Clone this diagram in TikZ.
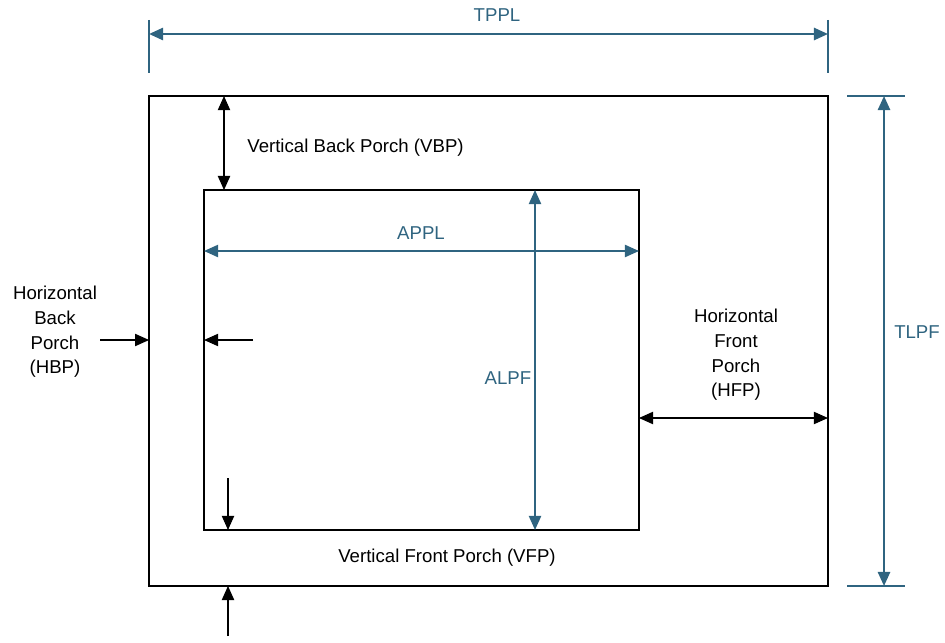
\documentclass[tikz,border=0pt]{standalone}
\usepackage{fontspec}
\setmainfont{Liberation Sans}
\usetikzlibrary{arrows.meta, positioning}
\definecolor{dimblue}{RGB}{47,100,128}

\begin{document}
\begin{tikzpicture}[x=0.02cm, y=-0.02cm]

\tikzset{box/.style = {draw, line width=1.4pt, inner sep=0pt, outer sep=0pt}}
\tikzset{edge/.style = {->, > = {Triangle[length=8pt,width=7pt]}, line width=0.6pt}}
\tikzset{dim/.style = {edge, dimblue, line width=1.1pt}}
\tikzset{dimthin/.style = {dim, line width=0.8pt}}
\tikzset{lbl/.style = {font=\fontsize{10.6}{14}\selectfont, align=center, inner sep=0pt}}

\useasboundingbox (0,0) rectangle (945,642);
%frames
\node[box, minimum width=13.58cm, minimum height=9.8cm] (frame) at (488.5,341) {};
\node[box, minimum width=8.7cm, minimum height=6.8cm] (active) at (421.5,360) {};
%free ends
\coordinate (tppl top) at (0,20);
\coordinate (tppl bot) at (0,73);
\coordinate (tppl) at (0,34);
\coordinate (tlpf l) at (847,0);
\coordinate (tlpf r) at (905,0);
\coordinate (tlpf) at (884,0);
\coordinate (vbp) at (224,0);
\coordinate (appl) at (0,251);
\coordinate (alpf) at (535,0);
\coordinate (hbp out) at (100,340);
\coordinate (hbp in) at (253,340);
\coordinate (hfp) at (0,418);
\coordinate (vfp in) at (228,478);
\coordinate (vfp out) at (228,636);
%labels
\node[lbl, dimblue] (tppl lbl) at (497,15) {TPPL};
\node[lbl, dimblue] (tlpf lbl) at (917,332) {TLPF};
\node[lbl, dimblue] (appl lbl) at (421,233) {APPL};
\node[lbl, dimblue] (alpf lbl) at (508,378) {ALPF};
\node[lbl, anchor=west] (vbp lbl) at (247,148) {Vertical Back Porch (VBP)};
\node[lbl] (vfp lbl) at (447,558) {Vertical Front Porch (VFP)};
\node[lbl] (hbp lbl) at (55,332) {Horizontal\\Back\\Porch\\(HBP)};
\node[lbl] (hfp lbl) at (736,355) {Horizontal\\Front\\Porch\\(HFP)};
%dimensions
\draw[dim, -] (frame.west |- tppl top) -- (frame.west |- tppl bot);
\draw[dim, -] (frame.east |- tppl top) -- (frame.east |- tppl bot);
\draw[dim, <->] (frame.west |- tppl) -- (frame.east |- tppl);
\draw[dim, -] (tlpf l |- frame.north) -- (tlpf r |- frame.north);
\draw[dim, -] (tlpf l |- frame.south) -- (tlpf r |- frame.south);
\draw[dim, <->] (tlpf |- frame.north) -- (tlpf |- frame.south);
\draw[dimthin, <->] (active.west |- appl) -- (active.east |- appl);
\draw[dimthin, <->] (alpf |- active.north) -- (alpf |- active.south);
%porches
\draw[edge, <->] (vbp |- frame.north) -- (vbp |- active.north);
\draw[edge] (hbp out) -- (frame.west |- hbp out);
\draw[edge] (hbp in) -- (active.west |- hbp in);
\draw[edge, <->] (active.east |- hfp) -- (frame.east |- hfp);
\draw[edge] (vfp in) -- (vfp in |- active.south);
\draw[edge] (vfp out) -- (vfp out |- frame.south);

\end{tikzpicture}
\end{document}
